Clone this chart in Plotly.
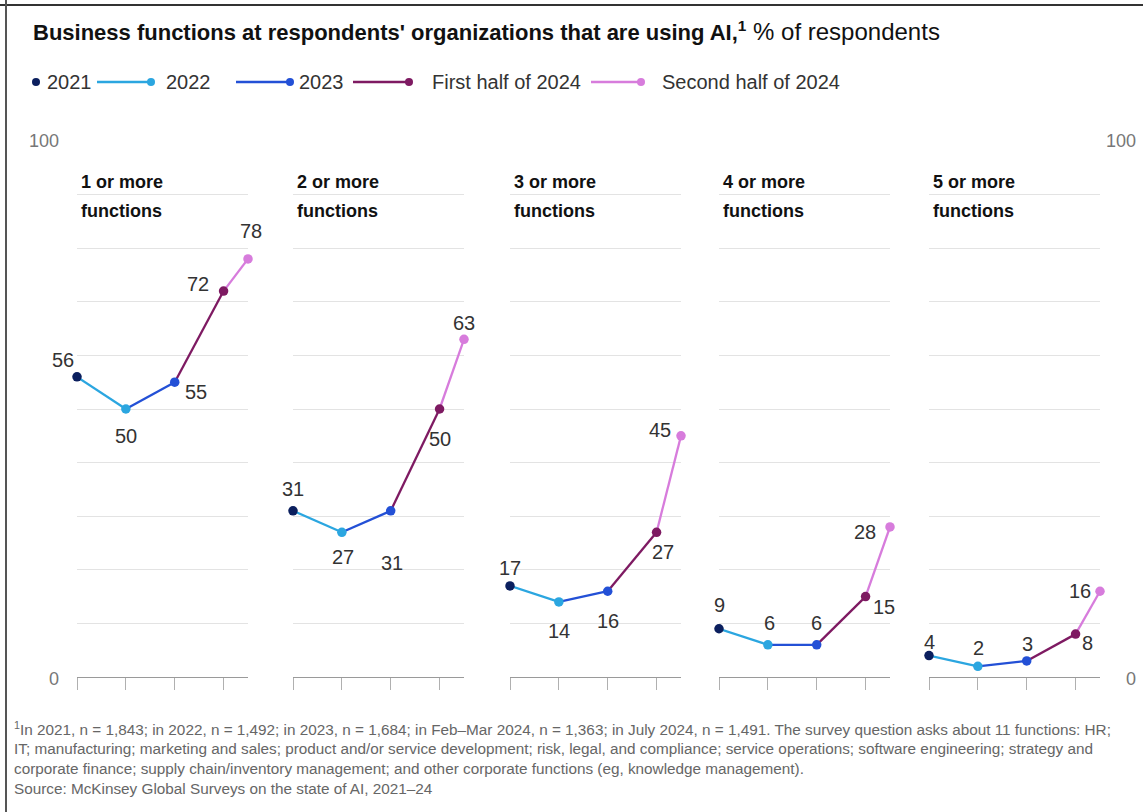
import plotly.graph_objects as go

# Survey periods and their positions on the time axis
periods = ["2021", "2022", "2023", "First half of 2024", "Second half of 2024"]
period_x = [2021, 2022, 2023, 2024, 2024.5]
tick_years = [2021, 2022, 2023, 2024]

panel_titles = [("1 or more", "functions"), ("2 or more", "functions"),
                ("3 or more", "functions"), ("4 or more", "functions"),
                ("5 or more", "functions")]

one_or_more = [56, 50, 55, 72, 78]
two_or_more = [31, 27, 31, 50, 63]
three_or_more = [17, 14, 16, 27, 45]
four_or_more = [9, 6, 6, 15, 28]
five_or_more = [4, 2, 3, 8, 16]
panels = [one_or_more, two_or_more, three_or_more, four_or_more, five_or_more]

grid_values = [10, 20, 30, 40, 50, 60, 70, 80, 90, 100]

colors = ["#0b1f5e", "#2ba6e0", "#2350d6", "#7e1a62", "#d77cdc"]

# label offsets (px) for each value label, per panel
label_offsets = [
    [(-14, 17), (0, -27), (21, -10), (-26, 7), (3, 28)],
    [(0, 22), (1, -25), (1, -52), (0, -30), (0, 16)],
    [(0, 18), (0, -29), (0, -30), (6, -20), (-21, 6)],
    [(0, 24), (2, 22), (0, 22), (18, -10), (-25, -5)],
    [(0, 14), (1, 18), (1, 17), (12, -9), (-20, 0)],
]

W, H = 1143, 812
TOP, BOTTOM = 141, 677
panel_starts = [77, 293, 510, 719, 929]
panel_width = 171


def px_x(px):
    return px / W


def px_y(py):
    return (BOTTOM - py) / (BOTTOM - TOP)


fig = go.Figure()
layout = dict(
    width=W, height=H,
    margin=dict(l=0, r=0, t=TOP, b=H - BOTTOM, pad=0),
    paper_bgcolor="white", plot_bgcolor="white",
    showlegend=False,
    font=dict(family="Liberation Sans, Arial, sans-serif", color="#333"),
)
annotations = []
shapes = []

for i, vals in enumerate(panels):
    sfx = "" if i == 0 else str(i + 1)
    xa, ya = "x" + sfx, "y" + sfx
    start = panel_starts[i]
    layout["xaxis" + sfx] = dict(
        domain=[px_x(start), px_x(start + panel_width)],
        range=[period_x[0], period_x[-1]], anchor=ya,
        showgrid=False, zeroline=False, showline=True,
        linecolor="#9a9a9a", linewidth=1.3,
        ticks="outside", tickvals=tick_years, ticklen=12,
        tickcolor="#b0b0b0", tickwidth=1.3, showticklabels=False,
        fixedrange=True,
    )
    layout["yaxis" + sfx] = dict(
        range=[0, 100], anchor=xa, domain=[0, 1],
        tickvals=grid_values, showticklabels=False, ticks="",
        showgrid=True, gridcolor="#e3e3e3", gridwidth=1,
        zeroline=False, showline=False, fixedrange=True,
    )
    # line segments, each coloured by the period it leads to
    for j in range(len(vals) - 1):
        fig.add_trace(go.Scatter(
            x=period_x[j:j + 2], y=vals[j:j + 2], mode="lines",
            line=dict(color=colors[j + 1], width=2.3),
            xaxis=xa, yaxis=ya, cliponaxis=False, hoverinfo="skip",
        ))
    fig.add_trace(go.Scatter(
        x=period_x, y=vals, mode="markers",
        marker=dict(color=colors, size=9.5),
        xaxis=xa, yaxis=ya, cliponaxis=False,
    ))
    for j, v in enumerate(vals):
        dx, dy = label_offsets[i][j]
        annotations.append(dict(
            x=period_x[j], y=v, xref=xa, yref=ya, text=str(v),
            showarrow=False, xshift=dx, yshift=dy,
            font=dict(size=20, color="#333"),
        ))
    t1, t2 = panel_titles[i]
    for k, line in enumerate((t1, t2)):
        annotations.append(dict(
            x=px_x(start + 2), y=px_y(182 + 29 * k), xref="paper", yref="paper",
            xanchor="left", yanchor="middle", text="<b>" + line + "</b>",
            showarrow=False, font=dict(size=18, color="#111"),
        ))

# y-axis labels at both sides
for val, py in ((100, 141), (0, 679)):
    annotations.append(dict(x=px_x(61), y=px_y(py), xref="paper", yref="paper",
                            xanchor="right", yanchor="middle", text=str(val),
                            showarrow=False, font=dict(size=18, color="#777")))
    annotations.append(dict(x=px_x(1138), y=px_y(py), xref="paper", yref="paper",
                            xanchor="right", yanchor="middle", text=str(val),
                            showarrow=False, font=dict(size=18, color="#777")))

# title
annotations.append(dict(
    x=px_x(31), y=px_y(31), xref="paper", yref="paper", xanchor="left", yanchor="middle",
    text="<b>Business functions at respondents' organizations that are using AI,</b>"
         "<sup><b>1</b></sup><span style='font-size:24px'> % of respondents</span>",
    showarrow=False, font=dict(size=22, color="#111"),
))

# legend
legend_text_x = [45, 164, 297, 430, 660]
legend_lines = [None, (97, 151), (236, 290), (353, 409), (591, 641)]
LY = 82
for k, name in enumerate(periods):
    seg = legend_lines[k]
    if seg is None:
        dot_x = 36
    else:
        shapes.append(dict(type="line", xref="paper", yref="paper",
                           x0=px_x(seg[0]), x1=px_x(seg[1]), y0=px_y(LY), y1=px_y(LY),
                           line=dict(color=colors[k], width=2.3)))
        dot_x = seg[1]
    shapes.append(dict(type="circle", xref="paper", yref="paper",
                       xsizemode="pixel", ysizemode="pixel",
                       xanchor=px_x(dot_x), yanchor=px_y(LY),
                       x0=-4, x1=4, y0=-4, y1=4,
                       fillcolor=colors[k], line=dict(width=0)))
    annotations.append(dict(x=px_x(legend_text_x[k]), y=px_y(LY), xref="paper", yref="paper",
                            xanchor="left", yanchor="middle", text=name, showarrow=False,
                            font=dict(size=20, color="#333")))

# footnote
notes = [
    "<sup>1</sup>In 2021, n = 1,843; in 2022, n = 1,492; in 2023, n = 1,684; in Feb\u2013Mar 2024, "
    "n = 1,363; in July 2024, n = 1,491. The survey question asks about 11 functions: HR;",
    "IT; manufacturing; marketing and sales; product and/or service development; risk, legal, "
    "and compliance; service operations; software engineering; strategy and",
    "corporate finance; supply chain/inventory management; and other corporate functions "
    "(eg, knowledge management).",
    "Source: McKinsey Global Surveys on the state of AI, 2021\u201324",
]
for k, line in enumerate(notes):
    annotations.append(dict(x=px_x(12), y=px_y(728 + 20 * k), xref="paper", yref="paper",
                            xanchor="left", yanchor="middle", text=line, showarrow=False,
                            font=dict(size=15.3, color="#666")))

# frame lines at top and left
shapes.append(dict(type="line", xref="paper", yref="paper", x0=0, x1=1,
                   y0=px_y(5), y1=px_y(5), line=dict(color="#333", width=2)))
shapes.append(dict(type="line", xref="paper", yref="paper", x0=px_x(6), x1=px_x(6),
                   y0=px_y(0), y1=px_y(H), line=dict(color="#555", width=2)))

layout["annotations"] = annotations
layout["shapes"] = shapes
fig.update_layout(**layout)
fig.write_html("out.html")
